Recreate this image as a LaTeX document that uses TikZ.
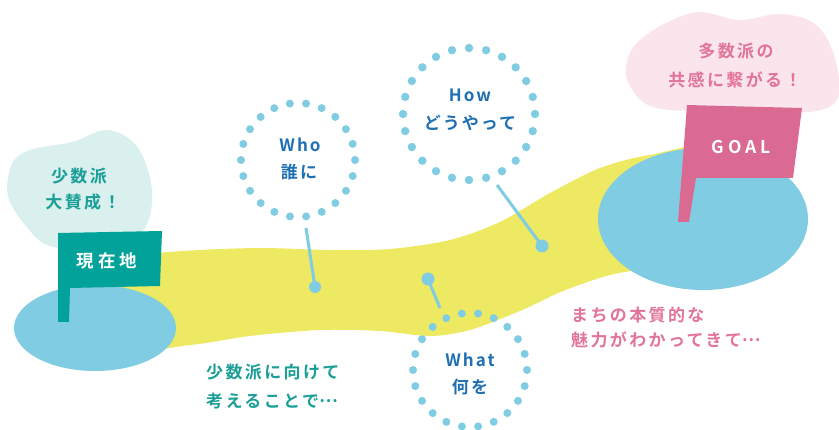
\documentclass[tikz,border=0pt]{standalone}
\usepackage{fontspec}
\newfontfamily\jp{Noto Sans CJK JP Bold}[LetterSpace=14]
\newfontfamily\jpq{Noto Sans CJK JP Bold}[LetterSpace=12]
\newfontfamily\jpb{Noto Sans CJK JP Bold}[LetterSpace=22]
\usetikzlibrary{calc}
\definecolor{pondblue}{HTML}{80CDE3}
\definecolor{pathyellow}{HTML}{EDE962}
\definecolor{flagteal}{HTML}{00A299}
\definecolor{cloudteal}{HTML}{D9F0EE}
\definecolor{flagpink}{HTML}{DA6A92}
\definecolor{cloudpink}{HTML}{FBE5EC}
\definecolor{txtteal}{HTML}{1A9E96}
\definecolor{txtpink}{HTML}{E2739B}
\definecolor{txtblue}{HTML}{1F6FB3}
\newcommand{\trail}{\raisebox{0.3em}{…}}
\tikzset{
  tealnote/.style={text=txtteal, font=\jp\fontsize{17}{17}\selectfont, inner sep=0pt},
  pinknote/.style={text=txtpink, font=\jp\fontsize{17}{17}\selectfont, inner sep=0pt},
  bluenote/.style={text=txtblue, font=\jpq\fontsize{17}{17}\selectfont, inner sep=0pt},
  flagtext/.style={text=white, font=\jpb\fontsize{17.5}{17.5}\selectfont, inner sep=0pt},
  stem/.style={draw=pondblue, line width=3pt},
  pin/.style={fill=pondblue},
}
\begin{document}
\begin{tikzpicture}[x=1pt,y=-1pt]
\useasboundingbox (0,0) rectangle (839,430);

% clouds
\fill[cloudpink] plot[smooth cycle, tension=0.6] coordinates {
  (640,40) (668,22) (700,12) (740,20) (780,14) (815,24) (834,55) (838,98)
  (810,112) (760,108) (700,111) (650,106) (628,82) (628,58)};
\fill[cloudteal] plot[smooth cycle, tension=0.6] coordinates {
  (30,150) (72,142) (108,130) (138,148) (152,192) (142,232) (100,250)
  (50,246) (26,226) (8,196) (12,164)};

% the winding road
\fill[pathyellow] plot[smooth cycle, tension=0.5] coordinates {
  (90,268) (140,255) (200,250) (263,248) (330,250) (390,249) (450,240)
  (500,222) (550,193) (600,168) (650,155) (720,150)
  (730,250) (660,266) (610,275) (563,291) (520,311) (470,330) (430,336)
  (380,331) (320,330) (250,336) (190,345) (100,350)};

% start and goal areas
\fill[pondblue] (95,328) ellipse (81 and 43);
\fill[pondblue] (703,219) ellipse (105 and 71);

% flags
\fill[flagteal] (58,233) -- (162,231) -- (160,286) -- (70,288) -- (69,322) -- (58,322) -- cycle;
\node[flagtext] (here) at (107,261) {現在地};
\fill[flagpink] (687,105) -- (802,108) -- (793,178) -- (696,178) -- (689,222) -- (678,222) -- cycle;
\node[flagtext] (goal) at (741,147) {GOAL};

% cloud captions
\node[tealnote] (few1) at (79,176) {少数派};
\node[tealnote] (few2) at (83,202) {大賛成！};
\node[pinknote] (many1) at (736,51) {多数派の};
\node[pinknote] (many2) at (735,80) {共感に繋がる！};

% question bubbles and their pins
\coordinate (who) at (298,160);
\coordinate (how) at (469,114);
\coordinate (what) at (470,370);
\coordinate (whoend) at (306,228);
\coordinate (howend) at (497,185);
\coordinate (whatend) at (440,308);
\fill[pin] (315,287) circle (6) coordinate (whopin);
\fill[pin] (542,246) circle (6.5) coordinate (howpin);
\fill[pin] (428,279) circle (6.5) coordinate (whatpin);
\draw[stem] (whoend) -- (whopin);
\draw[stem] (howend) -- (howpin);
\draw[stem] (whatend) -- (whatpin);

\foreach \a in {0,16.36,...,350} \fill[pondblue] ([shift={(\a:57)}]who) circle (4);
\foreach \a in {0,15,...,350} \fill[pondblue] ([shift={(\a:66)}]how) circle (4.2);
\foreach \a in {0,16.36,...,350} \fill[pondblue] ([shift={(\a:57)}]what) circle (4);

\node[bluenote] (whot) at (300,145) {Who};
\node[bluenote] (whoj) at (299,172) {誰に};
\node[bluenote] (howt) at (470,95) {How};
\node[bluenote] (howj) at (470,123) {どうやって};
\node[bluenote] (whatt) at (470,360) {What};
\node[bluenote] (whatj) at (470,387) {何を};

% side remarks
\node[tealnote, anchor=west] (rem1) at (206,372) {少数派に向けて};
\node[tealnote, anchor=west] (rem2) at (206,401) {考えることで\trail};
\node[pinknote, anchor=west] (rem3) at (571,315) {まちの本質的な};
\node[pinknote, anchor=west] (rem4) at (571,340) {魅力がわかってきて\trail};
\end{tikzpicture}
\end{document}
